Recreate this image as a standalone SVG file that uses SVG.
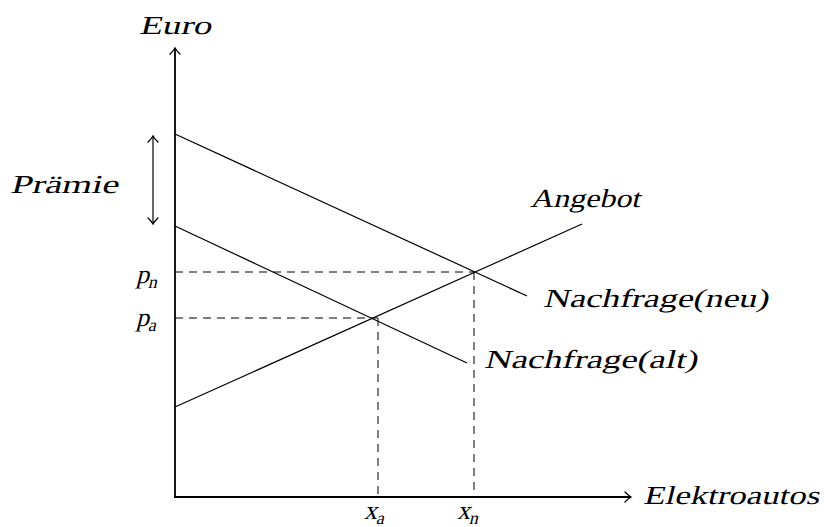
<svg xmlns="http://www.w3.org/2000/svg" width="824" height="527" viewBox="0 0 824 527">
<defs>
<marker id="arr" viewBox="-8 -6 10 12" markerWidth="10" markerHeight="12" refX="0" refY="0" orient="auto-start-reverse" markerUnits="userSpaceOnUse">
<path d="M-6,-5 Q-2,-1 0,0 Q-2,1 -6,5" fill="none" stroke="#000" stroke-width="1.3" stroke-linecap="round"/>
</marker>
</defs>
<style>
.ax{stroke:#000;stroke-width:1.8;fill:none}
.ln{stroke:#000;stroke-width:1.2;fill:none}
.dash{stroke:#000;stroke-width:1;stroke-dasharray:8,6;fill:none}
.t{font-family:"Liberation Serif","Times New Roman",serif;font-style:normal;font-size:26px;fill:#000}
.sub{font-size:18px}
</style>
<rect width="824" height="527" fill="#fff"/>
<g id="axes">
<line class="ax" x1="175" y1="497" x2="175" y2="48" marker-end="url(#arr)"/>
<line class="ax" x1="174" y1="497" x2="631" y2="497" marker-end="url(#arr)"/>
</g>
<g id="connectors">
<line class="ln" x1="175" y1="134" x2="527" y2="296"/>
<line class="ln" x1="175" y1="226" x2="467" y2="363"/>
<line class="ln" x1="175" y1="407" x2="582" y2="224"/>
<line class="dash" x1="175" y1="272" x2="474" y2="272"/>
<line class="dash" x1="474" y1="272" x2="474" y2="497"/>
<line class="dash" x1="175" y1="318" x2="378" y2="318"/>
<line class="dash" x1="378" y1="318" x2="378" y2="497"/>
<line class="ln" x1="153" y1="136" x2="153" y2="224" marker-start="url(#arr)" marker-end="url(#arr)"/>
</g>
<g id="labels">
<g transform="translate(139,34) skewX(-14)"><text class="t" textLength="72" lengthAdjust="spacingAndGlyphs">Euro</text></g>
<g transform="translate(10,193) skewX(-14)"><text class="t" textLength="108" lengthAdjust="spacingAndGlyphs">Prämie</text></g>
<g transform="translate(136,283) skewX(-14)"><text class="t">p<tspan class="sub" dy="5">n</tspan></text></g>
<g transform="translate(136,326) skewX(-14)"><text class="t">p<tspan class="sub" dy="5">a</tspan></text></g>
<g transform="translate(364,519) skewX(-14)"><text class="t">x<tspan class="sub" dy="5">a</tspan></text></g>
<g transform="translate(457,519) skewX(-14)"><text class="t">x<tspan class="sub" dy="5">n</tspan></text></g>
<g transform="translate(530,207) skewX(-14)"><text class="t" textLength="110" lengthAdjust="spacingAndGlyphs">Angebot</text></g>
<g transform="translate(543,307) skewX(-14)"><text class="t" textLength="225" lengthAdjust="spacingAndGlyphs">Nachfrage(neu)</text></g>
<g transform="translate(484,368) skewX(-14)"><text class="t" textLength="213" lengthAdjust="spacingAndGlyphs">Nachfrage(alt)</text></g>
<g transform="translate(643,504) skewX(-14)"><text class="t" textLength="176" lengthAdjust="spacingAndGlyphs">Elektroautos</text></g>
</g>
</svg>
